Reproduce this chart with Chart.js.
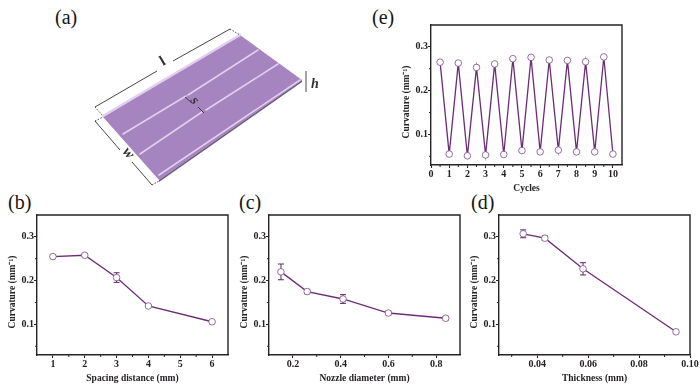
<!DOCTYPE html>
<html><head><meta charset="utf-8">
<script src="https://cdn.jsdelivr.net/npm/chart.js@4"></script>
<style>
html,body{margin:0;padding:0;background:#fff;width:700px;height:391px;overflow:hidden}
canvas{position:absolute;filter:blur(0.3px)}
svg{position:absolute;left:0;top:0;filter:blur(0.4px)}
.p{position:absolute;font:20px "Liberation Serif",serif;color:#161416;line-height:22px}
</style></head><body>
<svg width="700" height="391" viewBox="0 0 700 391" font-family="Liberation Serif" font-weight="bold" font-style="italic" fill="#333">
<polygon points="103,117 240,35 302,80 159,180" fill="#a684c0"/>
<polygon points="159,180 302,80 302,82 159,182" fill="#6f5a80"/>
<g stroke="#e2cfee" stroke-linecap="round" fill="none">
<line x1="103" y1="116" x2="240" y2="35" stroke-width="2.5"/>
<line x1="123" y1="134" x2="186" y2="96" stroke-width="1.6"/>
<line x1="188" y1="95" x2="258" y2="50" stroke-width="1.6"/>
<line x1="140" y1="154" x2="202" y2="112" stroke-width="1.6"/>
<line x1="206" y1="110" x2="278" y2="64" stroke-width="1.6"/>
<line x1="159" y1="175" x2="300" y2="80" stroke-width="1.6"/>
</g>
<g stroke="#333" stroke-width="0.9" fill="none">
<line x1="95" y1="107" x2="157" y2="71"/><line x1="173" y1="61" x2="230" y2="29"/>
<line x1="95" y1="121" x2="120" y2="150"/><line x1="132" y1="162" x2="152" y2="185"/>
<line x1="185" y1="97" x2="192" y2="103"/><line x1="198" y1="107" x2="204" y2="113"/>
<line x1="306" y1="71" x2="306" y2="92"/>
<line x1="230" y1="29" x2="240" y2="35" stroke-dasharray="1.5 1.5"/>
<line x1="95" y1="107" x2="103" y2="116" stroke-dasharray="1.5 1.5"/>
<line x1="95" y1="121" x2="103" y2="117" stroke-dasharray="1.5 1.5"/>
<line x1="152" y1="185" x2="159" y2="181" stroke-dasharray="1.5 1.5"/>
</g>
<text x="0" y="0" font-size="15" transform="translate(163,66) rotate(-31)" font-style="normal">l</text>
<text x="0" y="0" font-size="15" transform="translate(122,152) rotate(49)">w</text>
<text x="0" y="0" font-size="14" transform="translate(190,101) rotate(49)">s</text>
<text x="311" y="88" font-size="14">h</text>
</svg>
<div class="p" style="left:55px;top:6px">(a)</div>
<div class="p" style="left:8px;top:191px">(b)</div>
<div class="p" style="left:239px;top:191px">(c)</div>
<div class="p" style="left:471px;top:191px">(d)</div>
<div class="p" style="left:372px;top:6px">(e)</div>
<canvas id="b" width="242" height="186" style="left:0;top:205px"></canvas>
<canvas id="c" width="242" height="186" style="left:232px;top:205px"></canvas>
<canvas id="d" width="242" height="186" style="left:462px;top:205px"></canvas>
<canvas id="e" width="242" height="186" style="left:394px;top:15px"></canvas>
<script>
const yMajor=[0.1,0.2,0.3];
const yMinor=[0.05,0.15,0.25];
const yTitle='Curvature (mm\u207B\u00B9)';

const spacingX=[1,2,3,4,6];
const spacingY=[0.255,0.258,0.207,0.142,0.106];
const spacingErr=[0.003,0.003,0.011,0.003,0.002];
const spacingMajor=[1,2,3,4,5,6];
const spacingMinor=[1.5,2.5,3.5,4.5,5.5];

const nozzleX=[0.15,0.26,0.41,0.6,0.84];
const nozzleY=[0.22,0.175,0.158,0.126,0.114];
const nozzleErr=[0.018,0.005,0.01,0.004,0.004];
const nozzleMajor=[0.2,0.4,0.6,0.8];
const nozzleMinor=[0.3,0.5,0.7];

const thickX=[0.0345,0.043,0.058,0.0945];
const thickY=[0.307,0.297,0.227,0.083];
const thickErr=[0.009,0.005,0.014,0.004];
const thickMajor=[0.04,0.06,0.08,0.1];
const thickMinor=[0.03,0.05,0.07,0.09];

const cyclesX=[0.5,1,1.5,2,2.5,3,3.5,4,4.5,5,5.5,6,6.5,7,7.5,8,8.5,9,9.5,10];
const cyclesY=[0.265,0.055,0.263,0.051,0.253,0.053,0.261,0.054,0.273,0.063,0.276,0.06,0.27,0.064,0.269,0.06,0.266,0.06,0.277,0.055];
const cyclesMajor=[0,1,2,3,4,5,6,7,8,9,10];
const cyclesMinor=[0.5,1.5,2.5,3.5,4.5,5.5,6.5,7.5,8.5,9.5];

const INK='#262226', LINE='#6c2c78', FONT={family:'Liberation Serif',weight:'bold',size:10};

const frame={id:'frame',afterDraw(ch,a,o){
  const g=ch.ctx,{left,right,top,bottom}=ch.chartArea,x=ch.scales.x,y=ch.scales.y;
  g.save();g.strokeStyle=INK;g.lineWidth=1.4;
  g.beginPath();g.moveTo(left,top);g.lineTo(right,top);g.lineTo(right,bottom);g.stroke();
  g.lineWidth=1;g.beginPath();
  o.xMinor.forEach(v=>{const p=x.getPixelForValue(v);g.moveTo(p,bottom);g.lineTo(p,bottom+2);});
  yMinor.forEach(v=>{const p=y.getPixelForValue(v);g.moveTo(left,p);g.lineTo(left-2,p);});
  g.stroke();g.restore();
}};
const errors={id:'errors',beforeDatasetsDraw(ch,a,o){
  if(!o.err)return;
  const g=ch.ctx,m=ch.getDatasetMeta(0).data,y=ch.scales.y,vals=ch.data.datasets[0].data;
  g.save();g.strokeStyle='#5a2464';g.lineWidth=1;g.beginPath();
  o.err.forEach((e,i)=>{const px=m[i].x,t=y.getPixelForValue(vals[i].y+e),b=y.getPixelForValue(vals[i].y-e);
    g.moveTo(px,t);g.lineTo(px,b);g.moveTo(px-3,t);g.lineTo(px+3,t);g.moveTo(px-3,b);g.lineTo(px+3,b);});
  g.stroke();g.restore();
}};

function panel(id,xs,ys,err,xMin,xMax,xMajor,xMinor,xTitle,dec){
  new Chart(document.getElementById(id),{
    type:'scatter',
    data:{datasets:[{data:xs.map((v,i)=>({x:v,y:ys[i]})),showLine:true,borderColor:LINE,borderWidth:1.3,
      pointRadius:3.3,pointBackgroundColor:'#fff',pointBorderColor:'#7d4a88',pointBorderWidth:0.8,tension:0}]},
    plugins:[frame,errors],
    options:{responsive:false,animation:false,events:[],
      layout:{padding:{top:10,right:14,left:0,bottom:0}},
      plugins:{legend:{display:false},tooltip:{enabled:false},frame:{xMinor},errors:{err}},
      scales:{
        x:{type:'linear',min:xMin,max:xMax,
          afterBuildTicks:s=>{s.ticks=xMajor.map(v=>({value:v}));},
          afterFit:s=>{s.height=36;s.paddingLeft=0;s.paddingRight=0;},
          grid:{drawOnChartArea:false,tickLength:3,color:INK,tickWidth:1.1},
          border:{color:INK,width:1.4},
          ticks:{autoSkip:false,maxRotation:0,padding:0,color:INK,font:FONT,callback:v=>Number(v).toFixed(dec)},
          title:{display:true,text:xTitle,color:INK,font:{...FONT,size:9.5},padding:{top:6,bottom:6.6}}},
        y:{type:'linear',min:0.03,max:0.35,
          afterBuildTicks:s=>{s.ticks=yMajor.map(v=>({value:v}));},
          afterFit:s=>{s.width=37;s.paddingTop=0;s.paddingBottom=0;
            if(!s._shifted){s._shifted=true;const draw=s.drawTitle;
              s.drawTitle=function(){const g=s.ctx;g.save();g.translate(0,7);draw.call(s);g.restore();};}},
          grid:{drawOnChartArea:false,tickLength:3,color:INK,tickWidth:1.1},
          border:{color:INK,width:1.4},
          ticks:{autoSkip:false,padding:0,color:INK,font:FONT,callback:v=>Number(v).toFixed(1)},
          title:{display:true,text:yTitle,color:INK,font:{...FONT,size:9.5},padding:{top:7,bottom:1}}}
      }}
  });
}
panel('b',spacingX,spacingY,spacingErr,0.5,6.5,spacingMajor,spacingMinor,'Spacing distance (mm)',0);
panel('c',nozzleX,nozzleY,nozzleErr,0.1,0.9,nozzleMajor,nozzleMinor,'Nozzle diameter (mm)',1);
panel('d',thickX,thickY,thickErr,0.025,0.1,thickMajor,thickMinor,'Thickness (mm)',2);
panel('e',cyclesX,cyclesY,null,0,10.5,cyclesMajor,cyclesMinor,'Cycles',0);
</script>
</body></html>
